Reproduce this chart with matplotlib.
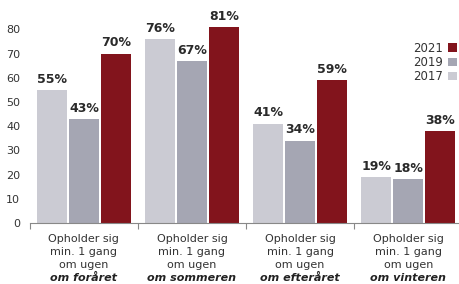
import numpy as np
import matplotlib
matplotlib.use("Agg")
import matplotlib.pyplot as plt

# data
seasons = ["om foråret", "om sommeren", "om efteråret", "om vinteren"]
years = ["2017", "2019", "2021"]
v2017 = [55, 76, 41, 19]
v2019 = [43, 67, 34, 18]
v2021 = [70, 81, 59, 38]
yticks = [0, 10, 20, 30, 40, 50, 60, 70, 80]
cat_lines = ["Opholder sig", "min. 1 gang", "om ugen"]

colors = {"2017": "#cbcbd3", "2019": "#a5a6b3", "2021": "#82141c"}

plt.rcParams['font.family'] = ['DejaVu Sans']

fig = plt.figure(figsize=(4.59, 2.84), dpi=100)
ax = fig.add_axes([0.065, 0.215, 0.935, 0.75])

x = np.arange(len(seasons))
width = 0.276
pitch = 0.295
series = [v2017, v2019, v2021]
handles = {}
for i, (yr, vals) in enumerate(zip(years, series)):
    pos = x + (i - 1) * pitch
    bars = ax.bar(pos, vals, width=width, color=colors[yr], label=yr, zorder=2)
    handles[yr] = bars
    for p, v in zip(pos, vals):
        ax.text(p, v + 3, f"{v}%", ha="center", va="baseline",
                fontsize=9, fontweight="bold", color="#2a2a2a")

ax.set_xlim(-0.49, 3.47)
ax.set_ylim(0, 88)
ax.set_yticks(yticks)
ax.tick_params(axis="y", length=0, labelsize=8, labelcolor="#333333", pad=7)
ax.set_xticks([-0.5, 0.5, 1.5, 2.5])
ax.set_xticklabels([])
ax.tick_params(axis="x", length=4, color="#888888", direction="out")

for s in ["top", "right", "left"]:
    ax.spines[s].set_visible(False)
ax.spines["bottom"].set_color("#888888")

# category labels, one line at a time
line_y = [-6.6, -12.0, -17.4, -22.8]
for xi, s in zip(x, seasons):
    for ly, txt in zip(line_y, cat_lines):
        ax.text(xi, ly, txt, ha="center", va="center", fontsize=8,
                color="#333333", clip_on=False)
    ax.text(xi, line_y[3], s, ha="center", va="center", fontsize=8,
            fontweight="bold", fontstyle="italic", color="#222222", clip_on=False)

leg = ax.legend([handles[y] for y in ["2021", "2019", "2017"]], ["2021", "2019", "2017"],
                loc="upper right", bbox_to_anchor=(0.995, 0.85), frameon=False,
                markerfirst=False, fontsize=8.5, handlelength=0.75, handleheight=0.75,
                handletextpad=0.4, labelspacing=0.1, borderaxespad=0, borderpad=0)
for t in leg.get_texts():
    t.set_color("#333333")

fig.savefig("out.png", dpi=100)
